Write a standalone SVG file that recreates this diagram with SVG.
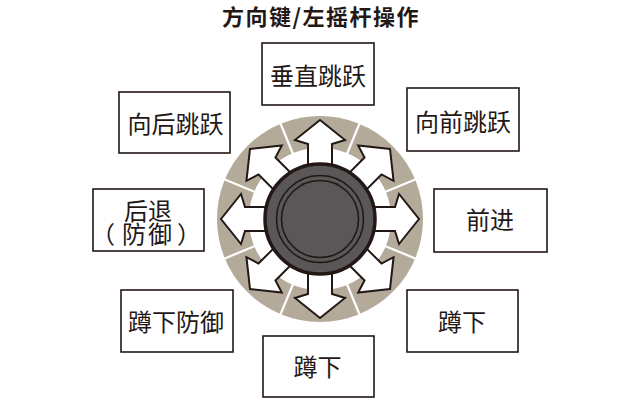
<svg xmlns="http://www.w3.org/2000/svg" width="640" height="404" viewBox="0 0 640 404">
<style>
.box{fill:#fff;stroke:#231815;stroke-width:1.6}
.lbl{font-family:"Noto Sans CJK SC","Noto Sans",sans-serif;font-size:24px;fill:#231815;text-anchor:middle}
.title{font-family:"Noto Sans CJK SC","Noto Sans",sans-serif;font-size:22px;font-weight:700;fill:#231815;text-anchor:middle;letter-spacing:1.5px}
.arrow{fill:#fff;stroke:#231815;stroke-width:2;stroke-linejoin:miter}
.sep{stroke:#fff;stroke-width:2.2}
</style>
<defs>
<path id="arr" d="M0,-99 L25,-79 L12,-75 L12,-45 L-12,-45 L-12,-75 L-25,-79 Z"/>
<line id="sp" x1="0" y1="-69" x2="0" y2="-105"/>
</defs>
<rect width="640" height="404" fill="#fff"/>
<text class="title" x="321" y="25">方向键/左摇杆操作</text>
<g id="joystick" transform="translate(320,219)">
<circle r="87" fill="none" stroke="#b4aa99" stroke-width="32"/>
<g class="sep">
<use href="#sp" transform="rotate(22.5)"/>
<use href="#sp" transform="rotate(67.5)"/>
<use href="#sp" transform="rotate(112.5)"/>
<use href="#sp" transform="rotate(157.5)"/>
<use href="#sp" transform="rotate(202.5)"/>
<use href="#sp" transform="rotate(247.5)"/>
<use href="#sp" transform="rotate(292.5)"/>
<use href="#sp" transform="rotate(337.5)"/>
</g>
<g id="arrows" class="arrow">
<use href="#arr"/>
<use href="#arr" transform="rotate(45)"/>
<use href="#arr" transform="rotate(90)"/>
<use href="#arr" transform="rotate(135)"/>
<use href="#arr" transform="rotate(180)"/>
<use href="#arr" transform="rotate(225)"/>
<use href="#arr" transform="rotate(270)"/>
<use href="#arr" transform="rotate(315)"/>
</g>
<circle r="55" fill="#595757" stroke="#231815" stroke-width="3.5"/>
<circle r="43.5" fill="none" stroke="#231815" stroke-width="1.6"/>
<circle r="38.5" fill="none" stroke="#231815" stroke-width="1.6"/>
</g>
<g id="n-up"><rect class="box" x="262" y="43" width="112" height="62"/><text class="lbl" x="318" y="84.5">垂直跳跃</text></g>
<g id="n-upleft"><rect class="box" x="119" y="92" width="111" height="61"/><text class="lbl" x="175.5" y="132.5">向后跳跃</text></g>
<g id="n-upright"><rect class="box" x="407" y="88" width="112" height="63"/><text class="lbl" x="463" y="130.5">向前跳跃</text></g>
<g id="n-left"><rect class="box" x="93" y="189" width="111" height="62"/><text class="lbl" x="148" y="219.5">后退</text><text class="lbl" x="91 122 148 177" y="243" style="text-anchor:start;text-spacing-trim:space-all">（防御）</text></g>
<g id="n-right"><rect class="box" x="434" y="189" width="113" height="63"/><text class="lbl" x="490" y="228.5">前进</text></g>
<g id="n-downleft"><rect class="box" x="121" y="290" width="112" height="62"/><text class="lbl" x="176" y="330.5">蹲下防御</text></g>
<g id="n-downright"><rect class="box" x="407" y="290" width="111" height="62"/><text class="lbl" x="462" y="331">蹲下</text></g>
<g id="n-down"><rect class="box" x="263" y="336" width="111" height="61"/><text class="lbl" x="317.5" y="376">蹲下</text></g>
</svg>
